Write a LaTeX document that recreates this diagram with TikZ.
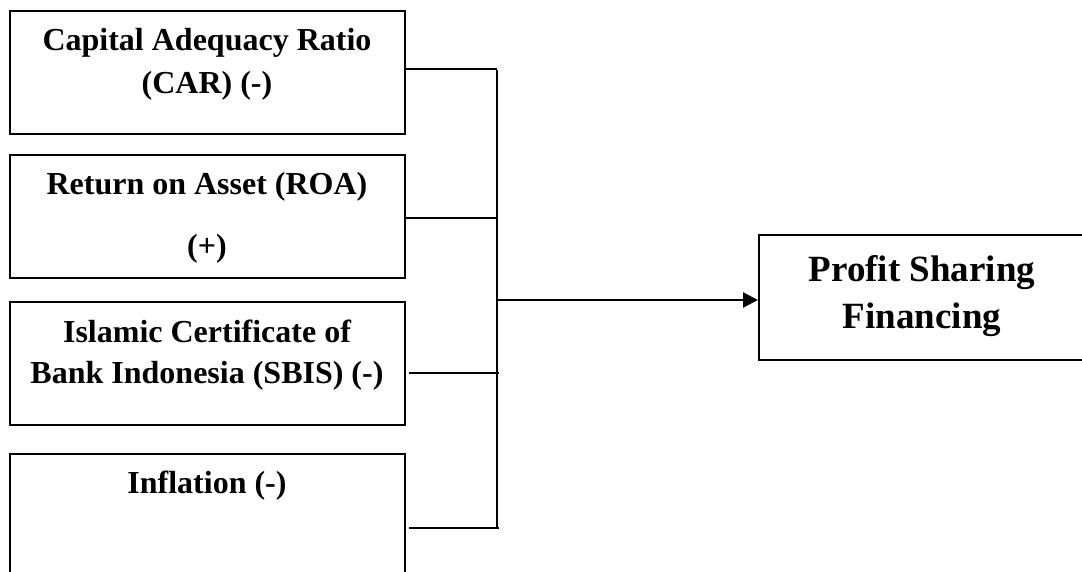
\documentclass[tikz,border=0pt]{standalone}
\usepackage{fontspec}
\setmainfont{Liberation Serif}
\usetikzlibrary{arrows.meta}
\begin{document}
\begin{tikzpicture}[x=1pt,y=-1pt,
  box/.style={draw,line width=2pt,rectangle,inner sep=0pt,anchor=north west},
  txt/.style={anchor=base,inner sep=0pt,font=\bfseries\fontsize{32}{40}\selectfont},
  bigtxt/.style={anchor=base,inner sep=0pt,font=\bfseries\fontsize{37}{46}\selectfont},
  conn/.style={line width=1.8pt},
  arr/.style={line width=2.4pt,-{Triangle[length=15pt,width=15pt]}}]
\useasboundingbox (0,0) rectangle (1082,571);
\clip (0,0) rectangle (1082,571);
% boxes
\node[box,minimum width=395pt,minimum height=123pt] (car) at (9,10) {};
\node[box,minimum width=395pt,minimum height=123pt] (roa) at (9,154) {};
\node[box,minimum width=395pt,minimum height=123pt] (sbis) at (9,301) {};
\node[box,minimum width=395pt,minimum height=160pt] (inf) at (9,453) {};
\node[box,minimum width=324pt,minimum height=125pt] (psf) at (758,234) {};
% texts
\node[txt] (car1) at (207,50) {Capital Adequacy Ratio};
\node[txt] (car2) at (207,93) {(CAR) (-)};
\node[txt] (roa1) at (207,194) {Return on Asset (ROA)};
\node[txt] (roa2) at (207,256) {(+)};
\node[txt] (sbis1) at (207,342) {Islamic Certificate of};
\node[txt] (sbis2) at (207,383) {Bank Indonesia (SBIS) (-)};
\node[txt] (inf1) at (207,493) {Inflation (-)};
\node[bigtxt] (psf1) at (922,281) {Profit Sharing};
\node[bigtxt] (psf2) at (922,328) {Financing};
% junctions
\coordinate (t1) at (497,69);
\coordinate (t2) at (497,218);
\coordinate (t3) at (497,373);
\coordinate (t4) at (497,528);
\coordinate (m) at (497,300);
\draw[conn] (car.east |- t1) -- (t1);
\draw[conn] (roa.east |- t2) -- (t2);
\draw[conn] ([xshift=3pt]sbis.east |- t3) -- ([xshift=2pt]t3);
\draw[conn] ([xshift=3pt]inf.east |- t4) -- ([xshift=2pt]t4);
\draw[conn] ([yshift=-0.9pt]t1) -- ([yshift=0.9pt]t4);
\draw[arr] (m) -- (psf.west |- m);
\end{tikzpicture}
\end{document}
